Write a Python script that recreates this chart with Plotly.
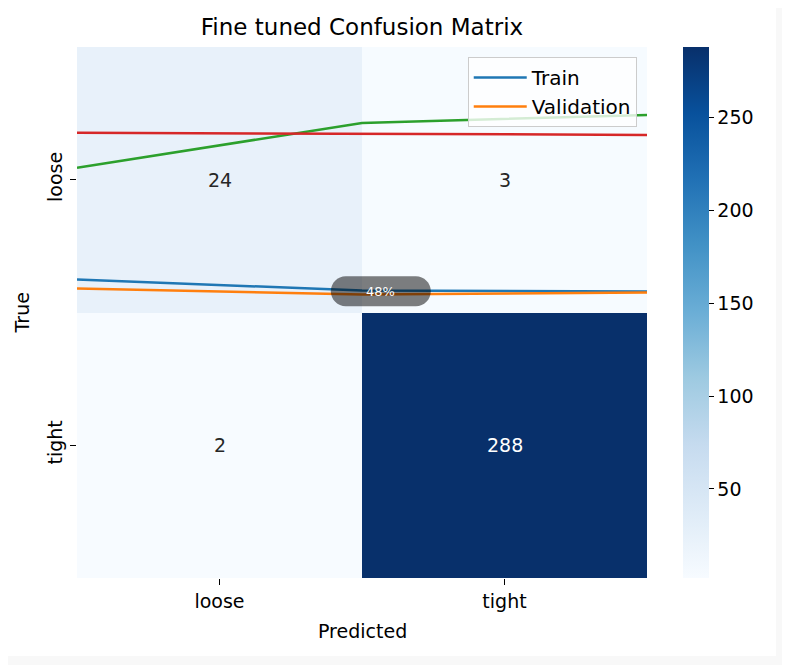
import plotly.graph_objects as go

# confusion matrix
labels = ["loose", "tight"]
counts = [[24, 3],
          [2, 288]]

# training history overlaid on the top half
epochs = [0, 1, 2]
train = [0.124, 0.083, 0.079]
validation = [0.090, 0.068, 0.075]
green_series = [0.545, 0.714, 0.744]
red_series = [0.677, 0.673, 0.669]
cbar_ticks = [50, 100, 150, 200, 250]
progress_text = "48%"

FONT = "DejaVu Sans"
TXT = "#262626"

# page body adds an 8px offset, so the figure is drawn 8px smaller
W, H = 782, 657

fig = go.Figure()

zmin = min(min(r) for r in counts)
zmax = max(max(r) for r in counts)

fig.add_trace(go.Heatmap(
    z=counts, x=labels, y=labels,
    colorscale="Blues", zmin=zmin, zmax=zmax,
    hoverinfo="skip",
    colorbar=dict(
        x=1.0632, xanchor="left", xpad=0, ypad=0,
        y=0.5, len=1, thickness=26, outlinewidth=0,
        tickvals=cbar_ticks, ticks="outside", ticklen=5,
        tickcolor="#000", tickfont=dict(family=FONT, size=19, color="#000"),
    ),
))

# cell counts
for i, row in enumerate(counts):
    for j, v in enumerate(row):
        fig.add_annotation(
            x=labels[j], y=labels[i], text=str(v), showarrow=False,
            font=dict(family=FONT, size=19,
                      color="white" if v > (zmin + zmax) / 2 else TXT),
        )

# lines
for name, vals, col, leg in [
    ("Train", train, "#1f77b4", True),
    ("Validation", validation, "#ff7f0e", True),
    ("acc", green_series, "#2ca02c", False),
    ("val_acc", red_series, "#d62728", False),
]:
    fig.add_trace(go.Scatter(
        x=epochs, y=vals, name=name, mode="lines",
        line=dict(color=col, width=2.5), showlegend=leg,
        xaxis="x2", yaxis="y2", hoverinfo="skip",
    ))

# pill label
fig.add_shape(
    type="path", xref="paper", yref="paper",
    xsizemode="pixel", ysizemode="pixel",
    xanchor=0.533, yanchor=0.540,
    path="M -35,-15 L 35,-15 C 43.3,-15 50,-8.3 50,0 C 50,8.3 43.3,15 35,15 "
         "L -35,15 C -43.3,15 -50,8.3 -50,0 C -50,-8.3 -43.3,-15 -35,-15 Z",
    fillcolor="rgba(0,0,0,0.5)", line=dict(width=0), layer="above",
)
fig.add_annotation(
    xref="paper", yref="paper", x=0.533, y=0.540, text=progress_text,
    showarrow=False, font=dict(family=FONT, size=13, color="white"),
)

# white figure area on grey page
fig.add_shape(
    type="rect", xref="paper", yref="paper",
    x0=-0.1351, x1=1.2263, y0=-0.1469, y1=1.0829,
    fillcolor="white", line=dict(width=0), layer="below",
)

# axis titles
fig.add_annotation(
    xref="paper", yref="paper", x=-0.0965, y=0.5, text="True",
    xanchor="center", yanchor="middle",
    textangle=-90, showarrow=False, font=dict(family=FONT, size=19, color="#000"),
)
fig.add_annotation(
    xref="paper", yref="paper", x=0.5, y=-0.0998, text="Predicted",
    xanchor="center", yanchor="middle",
    showarrow=False, font=dict(family=FONT, size=19, color="#000"),
)

fig.update_layout(
    width=W, height=H,
    margin=dict(l=69, r=143, t=39, b=87),
    paper_bgcolor="#f8f8f8",
    plot_bgcolor="rgba(0,0,0,0)",
    font=dict(family=FONT, size=19, color="#000"),
    title=dict(text="Fine tuned Confusion Matrix", x=354 / W, xanchor="center",
               y=1 - 19 / H, yanchor="middle", yref="container",
               font=dict(family=FONT, size=23, color="#000")),
    xaxis=dict(showgrid=False, zeroline=False, ticks="outside", ticklen=6,
               tickcolor="#000", tickfont=dict(size=19), showline=False),
    yaxis=dict(showgrid=False, zeroline=False, ticks="outside", ticklen=6,
               tickcolor="#000", tickfont=dict(size=19), tickangle=-90,
               autorange="reversed", showline=False),
    xaxis2=dict(domain=[0, 1], range=[0, 2], anchor="y2", visible=False),
    yaxis2=dict(domain=[0.5, 1], range=[0, 1], anchor="x2", visible=False),
    legend=dict(x=0.982, y=0.981, xanchor="right", yanchor="top",
                bgcolor="rgba(255,255,255,0.8)", bordercolor="#cccccc",
                borderwidth=1, font=dict(family=FONT, size=20, color="#000"),
                itemwidth=53),
)

fig.write_html("out.html")
